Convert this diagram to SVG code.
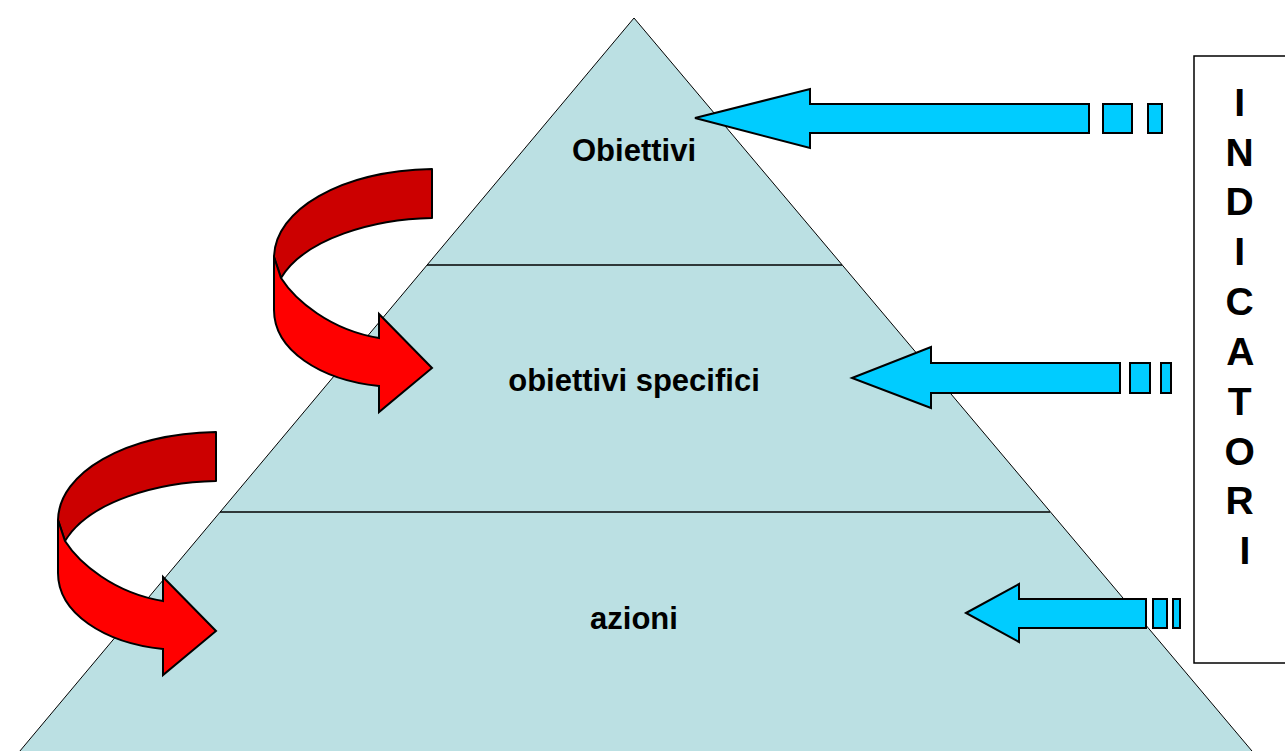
<svg xmlns="http://www.w3.org/2000/svg" width="1285" height="751" viewBox="0 0 1285 751">
<style>
.lbl{font-family:"Liberation Sans",Arial,sans-serif;font-weight:bold;fill:#000}
.lvl{font-size:31px}
.ind{font-size:39px}
.blue{fill:#00CCFF;stroke:#000;stroke-width:2;stroke-linejoin:miter}
.dark{fill:#CC0000;stroke:#000;stroke-width:2;stroke-linejoin:round}
.front{fill:#FF0000;stroke:#000;stroke-width:2;stroke-linejoin:miter}
.sep{stroke:#000;stroke-width:1.5}
</style>
<defs>
<g id="curved">
<path class="dark" d="M432,169 C340,171 275,210 274,257 L281,278 C305,238 375,219 432,218 Z"/>
<path class="front" d="M274,257 L281,278 C295,300 330,330 379,338 L379,314 L432,368 L379,412 L379,386 C320,380 274,350 274,310 Z"/>
</g>
</defs>
<rect width="1285" height="751" fill="#fff"/>
<g id="pyramid">
<polygon points="634,18 1268,770 4,770" fill="#BBE0E3" stroke="#000" stroke-width="1"/>
<line class="sep" x1="427" y1="265" x2="842" y2="265"/>
<line class="sep" x1="220" y1="512" x2="1050" y2="512"/>
</g>
<g id="level-obiettivi"><text class="lbl lvl" x="634" y="161" text-anchor="middle">Obiettivi</text></g>
<g id="level-specifici"><text class="lbl lvl" x="634" y="391" text-anchor="middle">obiettivi specifici</text></g>
<g id="level-azioni"><text class="lbl lvl" x="634" y="629" text-anchor="middle">azioni</text></g>
<g id="indicatori">
<rect x="1194" y="56" width="100" height="607" fill="#fff" stroke="#000" stroke-width="1.5"/>
<text class="lbl ind" text-anchor="middle">
<tspan x="1245" y="116">I</tspan>
<tspan x="1245" y="166">N</tspan>
<tspan x="1245" y="215">D</tspan>
<tspan x="1245" y="265">I</tspan>
<tspan x="1245" y="315">C</tspan>
<tspan x="1245" y="365">A</tspan>
<tspan x="1245" y="415">T</tspan>
<tspan x="1245" y="465">O</tspan>
<tspan x="1245" y="514">R</tspan>
<tspan x="1245" y="564">I</tspan>
</text>
</g>
<g id="connectors">
<g id="arrow-ind-1">
<polygon class="blue" points="695,118 810,89 810,104 1089,104 1089,133 810,133 810,148"/>
<rect class="blue" x="1103" y="104" width="29" height="29"/>
<rect class="blue" x="1148" y="104" width="14" height="29"/>
</g>
<g id="arrow-ind-2">
<polygon class="blue" points="852,378 931,347 931,363 1120,363 1120,393 931,393 931,408"/>
<rect class="blue" x="1130" y="363" width="20" height="30"/>
<rect class="blue" x="1161" y="363" width="10" height="30"/>
</g>
<g id="arrow-ind-3">
<polygon class="blue" points="966,613 1019,584 1019,599 1146,599 1146,628 1019,628 1019,642"/>
<rect class="blue" x="1153" y="599" width="14" height="29"/>
<rect class="blue" x="1173" y="599" width="7" height="29"/>
</g>
<g id="curved-1"><use href="#curved"/></g>
<g id="curved-2"><use href="#curved" transform="translate(-216,263)"/></g>
</g>
</svg>
